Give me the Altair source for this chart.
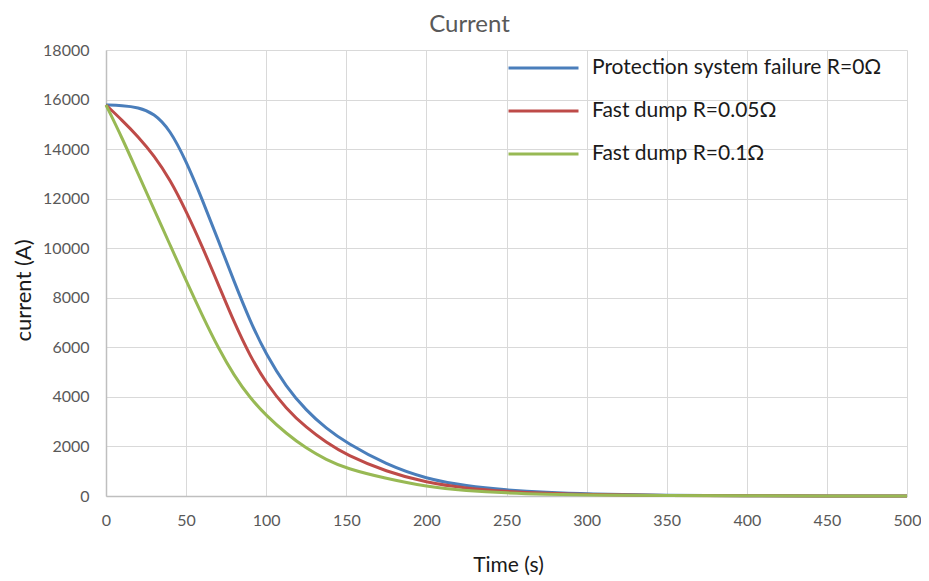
import altair as alt
import pandas as pd

# Time samples (s)
time_s = [0, 10, 20, 30, 40, 50, 60, 70, 80, 90, 100, 112.5, 125, 137.5, 150,
          175, 200, 225, 250, 275, 300, 350, 400, 450, 500]

series_names = [
    "Protection system failure R=0Ω",
    "Fast dump R=0.05Ω",
    "Fast dump R=0.1Ω",
]
series_colors = ["#4a7ebb", "#be4b48", "#98b954"]

# Current (A)
current_r0 = [15780, 15760, 15690, 15450, 14780, 13520, 11980, 10330, 8650, 7050, 5700,
              4400, 3450, 2720, 2150, 1260, 690, 400, 240, 140, 80, 28, 10, 4, 1]
current_r005 = [15780, 15170, 14510, 13740, 12770, 11500, 10080, 8560, 7000, 5640, 4550,
                3520, 2760, 2160, 1660, 980, 540, 310, 180, 105, 60, 20, 6, 2, 0]
current_r01 = [15780, 14460, 13010, 11570, 10130, 8690, 7300, 5980, 4850, 3950, 3250,
               2520, 1920, 1460, 1110, 700, 380, 215, 120, 70, 40, 14, 5, 2, 0]

x_ticks = list(range(0, 501, 50))
y_ticks = list(range(0, 18001, 2000))

rows = []
for name, vals in zip(series_names, [current_r0, current_r005, current_r01]):
    for t, v in zip(time_s, vals):
        rows.append({"time": t, "current": v, "series": name})
df = pd.DataFrame(rows)

FONT = "Lato"

chart = (
    alt.Chart(df)
    .mark_line(strokeWidth=3, interpolate="basis")
    .encode(
        x=alt.X(
            "time:Q",
            scale=alt.Scale(domain=[0, 500], nice=False),
            axis=alt.Axis(
                values=x_ticks,
                format="d",
                title="Time (s)",
                titleX=402,
                titleY=69,
                titleBaseline="middle",
                titleAlign="center",
                titleFontSize=21,
                labelPadding=16,
                labelFlush=False,
            ),
        ),
        y=alt.Y(
            "current:Q",
            scale=alt.Scale(domain=[0, 18000], nice=False),
            axis=alt.Axis(
                values=y_ticks,
                format="d",
                title="current (A)",
                titleX=-83,
                titleY=240,
                titleAngle=270,
                titleBaseline="middle",
                titleAlign="center",
                titleFontSize=22,
                labelPadding=17,
            ),
        ),
        color=alt.Color(
            "series:N",
            scale=alt.Scale(domain=series_names, range=series_colors),
            sort=series_names,
            legend=alt.Legend(
                title=None,
                orient="none",
                legendX=401,
                legendY=7,
                symbolType="stroke",
                symbolSize=4900,
                symbolStrokeWidth=3,
                clipHeight=22,
                rowPadding=21,
                labelFontSize=21,
                labelFont=FONT,
                labelColor="#1a1a1a",
                labelOffset=12,
                labelLimit=400,
                padding=0,
            ),
        ),
        order=alt.Order("time:Q"),
    )
    .properties(
        width=801,
        height=446,
        title=alt.TitleParams(
            "Current", fontSize=24, font=FONT, color="#595959", fontWeight="normal",
            anchor="middle", dx=-37, offset=5,
        ),
        autosize=alt.AutoSizeParams(type="none"),
        padding={"left": 98, "top": 42, "right": 14, "bottom": 82},
    )
    .configure_view(stroke=None)
    .configure_axis(
        labelFont=FONT,
        labelFontSize=16,
        labelColor="#595959",
        titleFont=FONT,
        titleFontWeight="normal",
        titleColor="#1a1a1a",
        gridColor="#d9d9d9",
        gridWidth=1,
        domainColor="#bfbfbf",
        domainWidth=1.5,
        ticks=False,
    )
)

chart.save("out.html", embed_options={"renderer": "svg", "actions": False})
